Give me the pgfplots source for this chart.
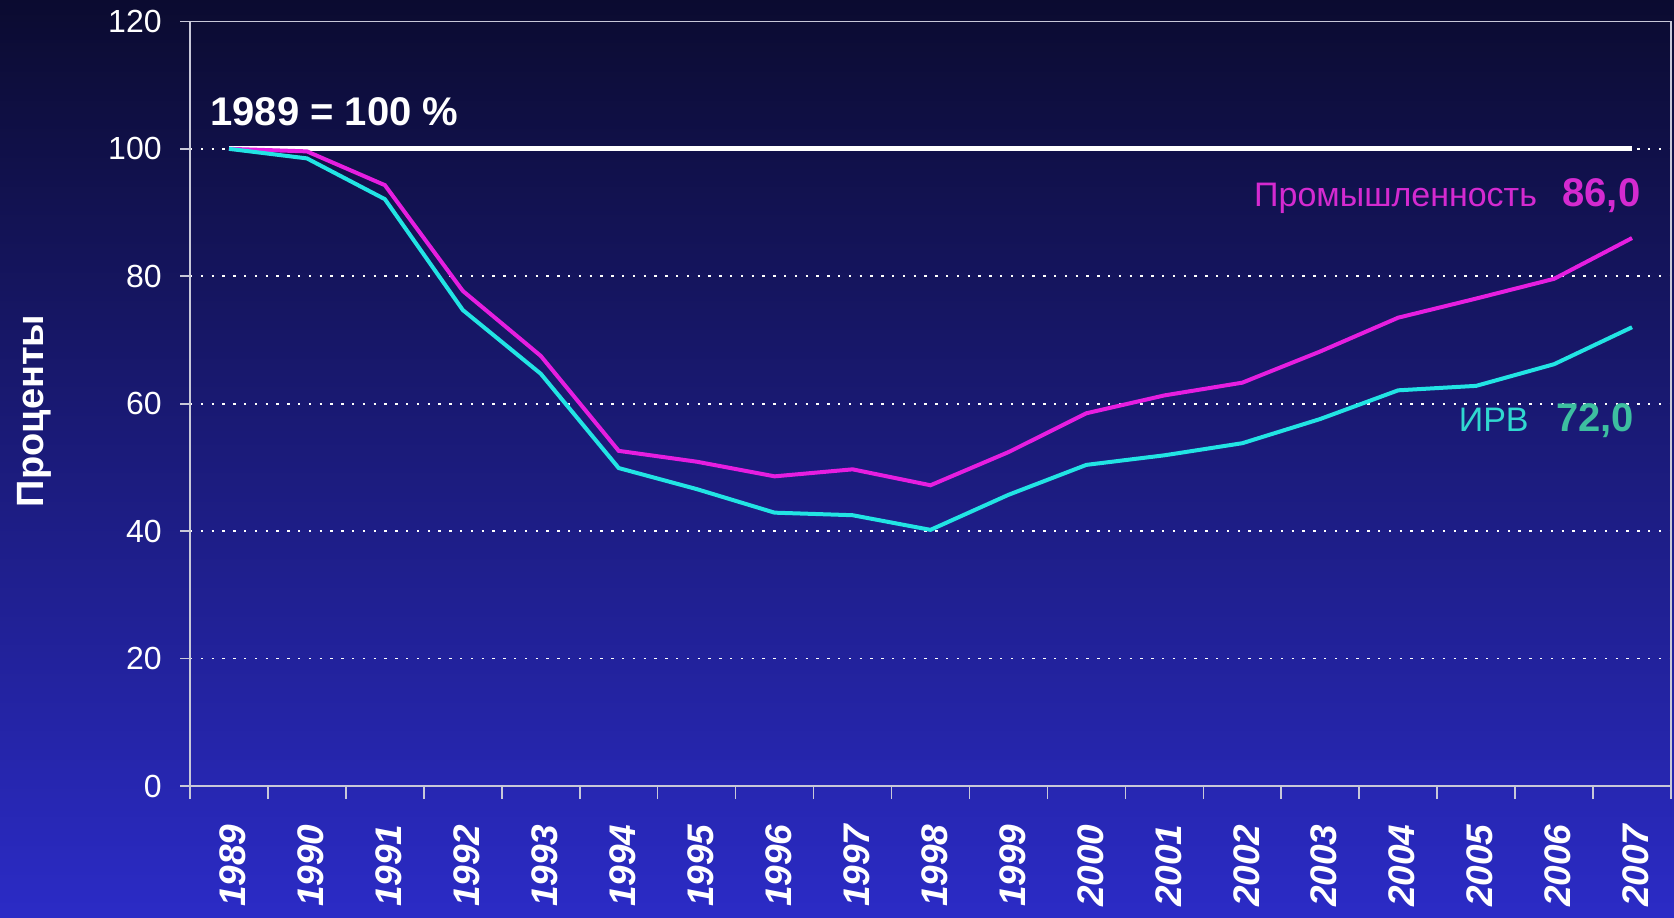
\documentclass[border=0pt]{standalone}
\usepackage{fontspec}
\setmainfont{Liberation Sans}
\usepackage{pgfplots}
\pgfplotsset{compat=1.18}
\definecolor{bgtop}{HTML}{0B0B30}
\definecolor{bgmid}{HTML}{18186C}
\definecolor{bgbot}{HTML}{2B2BC6}
\definecolor{mag}{HTML}{E61EE0}
\definecolor{cyn}{HTML}{22E4E4}
\definecolor{magtxt}{HTML}{D42AD0}
\definecolor{cyntxt}{HTML}{30D8D0}
\definecolor{tealtxt}{HTML}{3DBFA0}
\definecolor{axgray}{HTML}{C8C8D8}
\begin{document}
\begin{tikzpicture}
\shade[top color=bgtop, middle color=bgmid, bottom color=bgbot] (0,0) rectangle (837pt,458.5pt);
\begin{axis}[
  at={(95pt,65.5pt)}, anchor=south west,
  scale only axis, width=740.5pt, height=382.3pt,
  xmin=-0.5, xmax=18.5, ymin=0, ymax=120,
  xtick={0,...,18},
  xticklabels={1989,1990,1991,1992,1993,1994,1995,1996,1997,1998,1999,2000,2001,2002,2003,2004,2005,2006,2007},
  minor xtick={-0.5,0.5,...,18.5},
  ytick={0,20,...,120},
  tick pos=left,
  tick align=outside,
  major tick length=5pt,
  minor tick length=6.5pt,
  major x tick style={draw=none},
  tick style={color=axgray, line width=0.8pt},
  axis line style={color=axgray, line width=0.8pt},
  ymajorgrids,
  grid style={white, line width=0.8pt, dash pattern=on 1.2pt off 4.2pt},
  /pgf/number format/assume math mode=true,
  yticklabel style={font=\fontsize{16pt}{19pt}\selectfont, text=white, inner sep=0pt, xshift=-9pt},
  xticklabel style={font=\fontsize{18.5pt}{22pt}\selectfont\bfseries\itshape, text=white, rotate=90, anchor=east, inner sep=0pt, yshift=-2pt},
  xticklabel shift=14pt,
  clip=false,
]
\addplot[white, line width=2.6pt] coordinates {(0,100) (18,100)};
\addplot[mag, line width=2pt] coordinates {
(0,100) (1,99.6) (2,94.3) (3,77.7) (4,67.5) (5,52.6) (6,50.9) (7,48.6) (8,49.7) (9,47.2)
(10,52.4) (11,58.5) (12,61.3) (13,63.3) (14,68.2) (15,73.5) (16,76.5) (17,79.6) (18,86.0)};
\addplot[cyn, line width=2pt] coordinates {
(0,100) (1,98.5) (2,92.1) (3,74.7) (4,64.7) (5,49.9) (6,46.6) (7,42.9) (8,42.5) (9,40.2)
(10,45.7) (11,50.4) (12,51.9) (13,53.8) (14,57.6) (15,62.1) (16,62.8) (17,66.2) (18,72.0)};
\end{axis}
\node[anchor=west, text=white, inner sep=0pt, font=\fontsize{20pt}{24pt}\selectfont\bfseries] at (105pt,402.5pt) {1989 = 100 \%};
\node[anchor=base east, text=magtxt, inner sep=0pt, font=\fontsize{17pt}{20pt}\selectfont] at (768.7pt,355pt) {Промышленность};
\node[anchor=base west, text=magtxt, inner sep=0pt, font=\fontsize{20pt}{24pt}\selectfont\bfseries] at (781pt,355pt) {86,0};
\node[anchor=base east, text=cyntxt, inner sep=0pt, font=\fontsize{17pt}{20pt}\selectfont] at (764.5pt,243pt) {ИРВ};
\node[anchor=base west, text=tealtxt, inner sep=0pt, font=\fontsize{20pt}{24pt}\selectfont\bfseries] at (777.8pt,243pt) {72,0};
\node[rotate=90, text=white, inner sep=0pt, font=\fontsize{19pt}{23pt}\selectfont\bfseries] at (17pt,253pt) {Проценты};
\pgfresetboundingbox
\path (0,0) rectangle (837pt,458.5pt);
\end{tikzpicture}
\end{document}
